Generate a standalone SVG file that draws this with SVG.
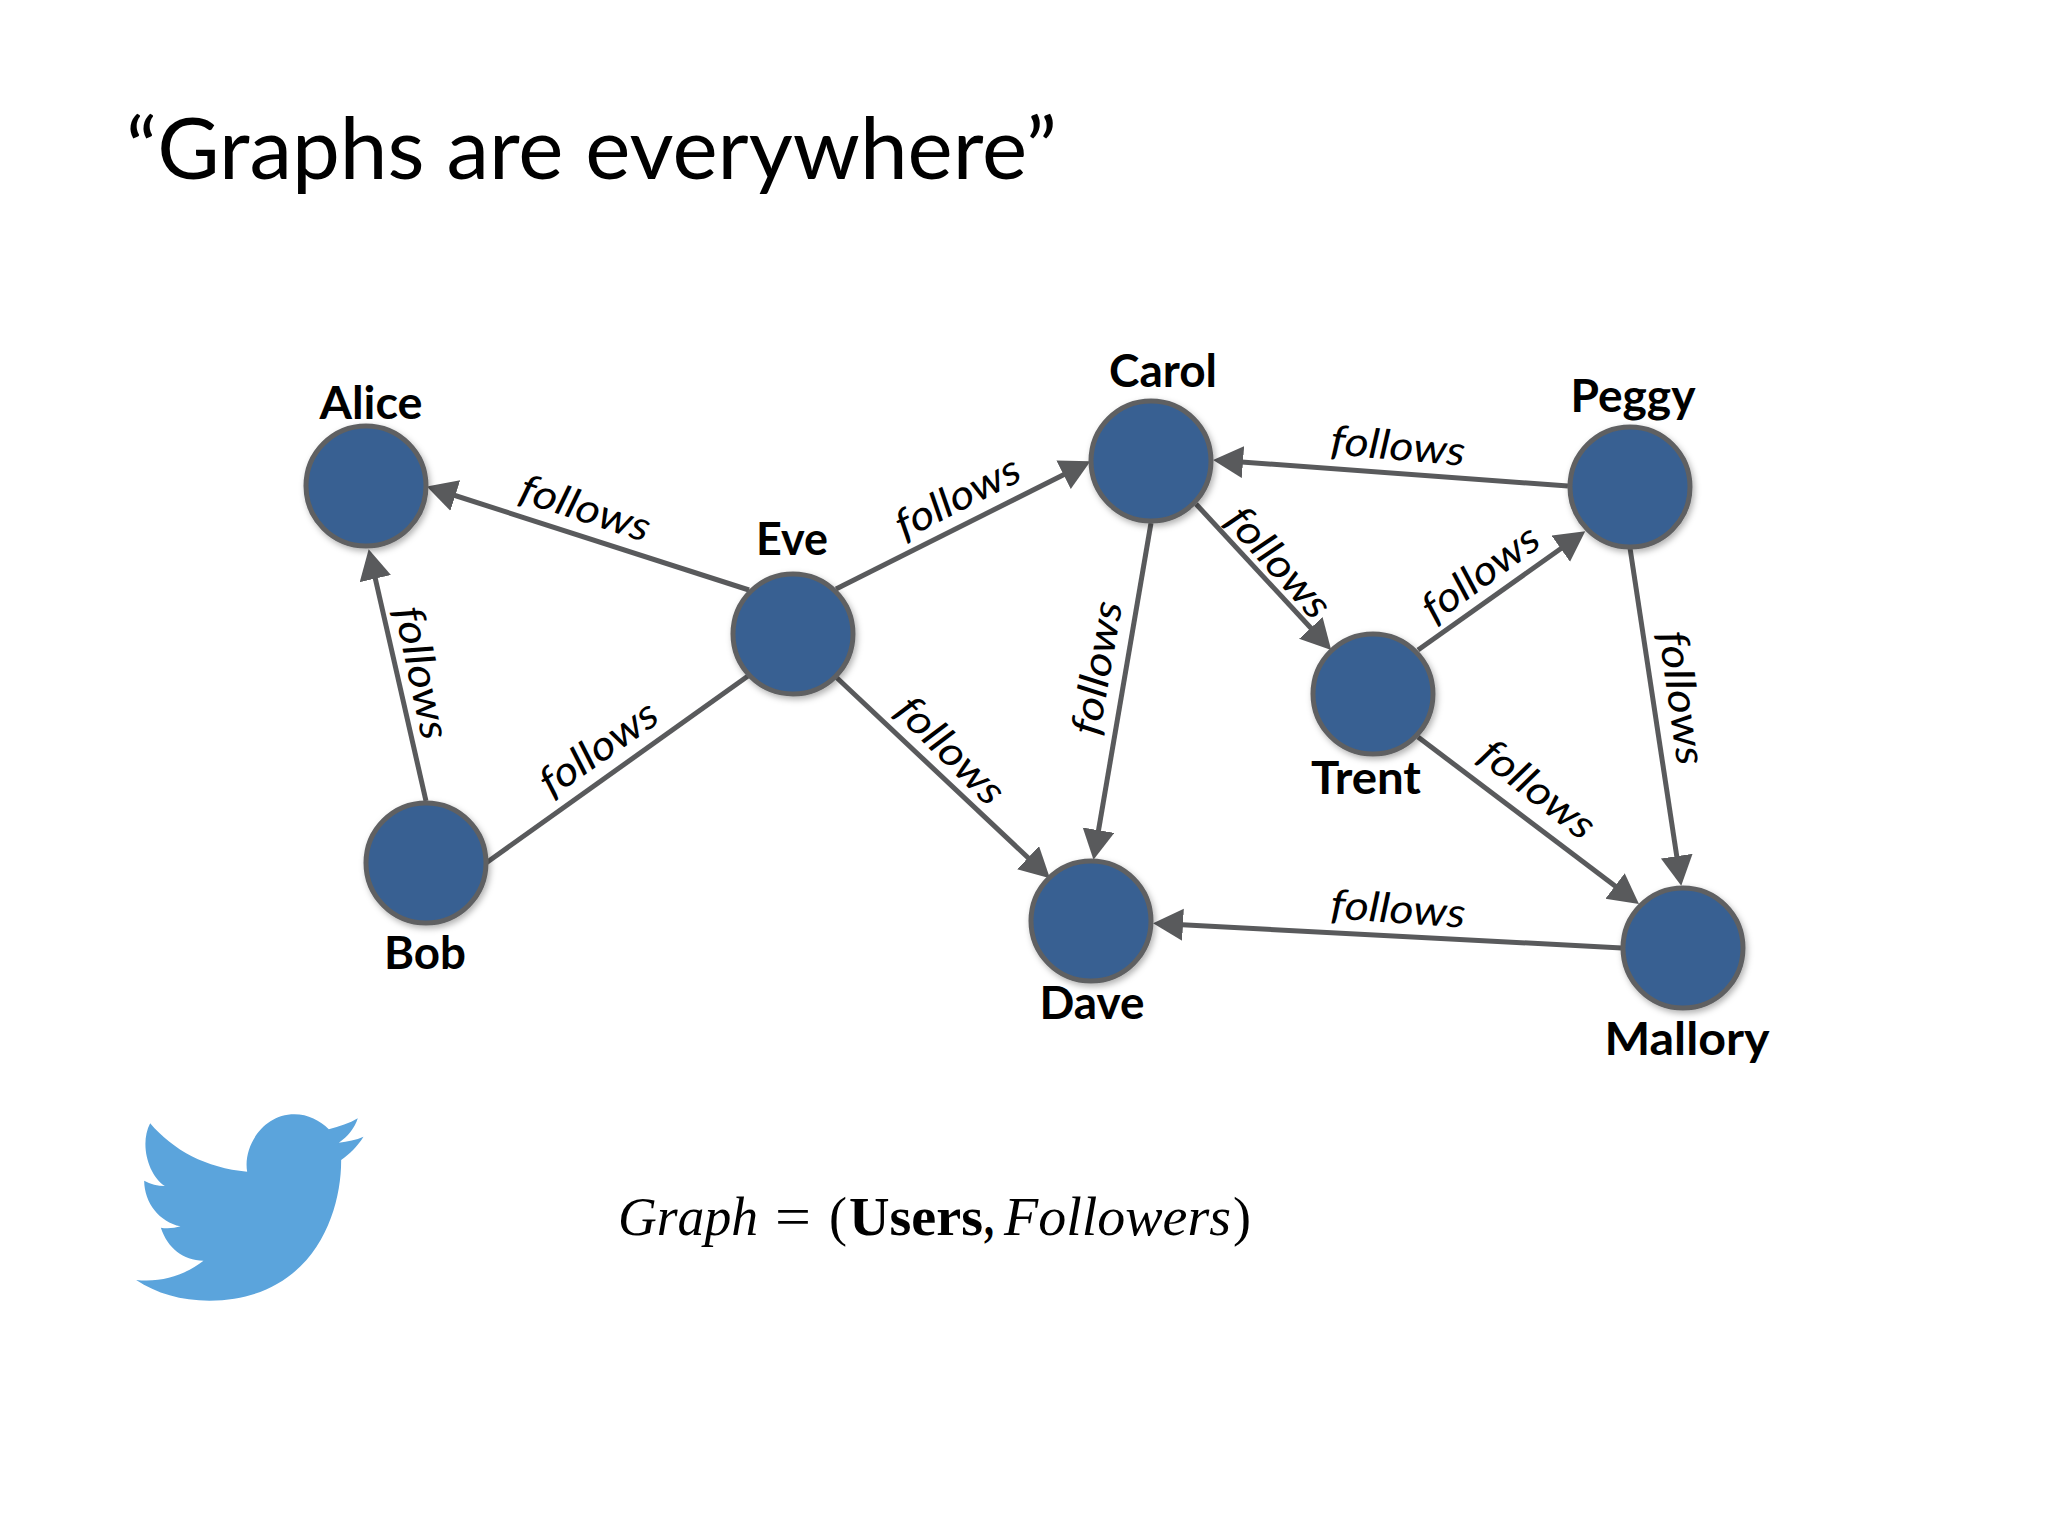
<svg xmlns="http://www.w3.org/2000/svg" width="2048" height="1536" viewBox="0 0 2048 1536">
<defs>
<style>
.n{fill:#376092;stroke:#5f6062;stroke-width:5}
.c{fill:none;stroke:#595a5c;stroke-width:5}
.a{marker-end:url(#arrow)}
.name{font-family:Lato,"Liberation Sans",sans-serif;font-weight:700;font-size:46px;fill:#000;text-anchor:middle}
.f{font-family:Lato,"Liberation Sans",sans-serif;font-style:italic;font-size:41px;fill:#000;text-anchor:middle}
.m{font-family:"Liberation Serif",serif;font-size:54px;fill:#000}
</style>
<marker id="arrow" markerUnits="userSpaceOnUse" markerWidth="32" markerHeight="34" refX="15" refY="16" orient="auto"><path d="M0,0L30,16L0,32Z" fill="#595a5c"/></marker>
<filter id="s" x="-20%" y="-20%" width="140%" height="140%"><feDropShadow dx="2" dy="3" stdDeviation="3" flood-color="#000" flood-opacity=".3"/></filter>
</defs>
<rect width="2048" height="1536" fill="#fff"/>
<text id="title" x="126" y="179" font-family="Lato,'Liberation Sans',sans-serif" font-size="85" fill="#000" textLength="931" lengthAdjust="spacingAndGlyphs">“Graphs are everywhere”</text>
<g id="connectors">
<path class="c a" d="M426,801L372,564"/>
<path class="c" d="M486,863L748,676"/>
<path class="c a" d="M749,590L441,491"/>
<path class="c a" d="M836,589L1077,468"/>
<path class="c a" d="M836,677L1039,868"/>
<path class="c a" d="M1151,523L1096,845"/>
<path class="c a" d="M1196,504L1321,639"/>
<path class="c a" d="M1568,486L1228,461"/>
<path class="c a" d="M1418,650L1573,540"/>
<path class="c a" d="M1630,548L1679,871"/>
<path class="c a" d="M1418,737L1627,895"/>
<path class="c a" d="M1622,948L1168,924"/>
<g>
<text class="f" transform="translate(585,509) rotate(18)" y="13" textLength="135" lengthAdjust="spacingAndGlyphs">follows</text>
<text class="f" transform="translate(421,673) rotate(78)" y="13" textLength="135" lengthAdjust="spacingAndGlyphs">follows</text>
<text class="f" transform="translate(599,749) rotate(-35)" y="13" textLength="135" lengthAdjust="spacingAndGlyphs">follows</text>
<text class="f" transform="translate(958,498) rotate(-27)" y="13" textLength="135" lengthAdjust="spacingAndGlyphs">follows</text>
<text class="f" transform="translate(950,751) rotate(45)" y="13" textLength="135" lengthAdjust="spacingAndGlyphs">follows</text>
<text class="f" transform="translate(1098,668) rotate(-80)" y="13" textLength="135" lengthAdjust="spacingAndGlyphs">follows</text>
<text class="f" transform="translate(1278,563) rotate(48)" y="13" textLength="135" lengthAdjust="spacingAndGlyphs">follows</text>
<text class="f" transform="translate(1398,447) rotate(5)" y="13" textLength="135" lengthAdjust="spacingAndGlyphs">follows</text>
<text class="f" transform="translate(1481,574) rotate(-36)" y="13" textLength="135" lengthAdjust="spacingAndGlyphs">follows</text>
<text class="f" transform="translate(1681,698) rotate(82)" y="13" textLength="135" lengthAdjust="spacingAndGlyphs">follows</text>
<text class="f" transform="translate(1537,790) rotate(38)" y="13" textLength="135" lengthAdjust="spacingAndGlyphs">follows</text>
<text class="f" transform="translate(1398,910) rotate(4)" y="13" textLength="135" lengthAdjust="spacingAndGlyphs">follows</text>
</g>
</g>
<g id="alice"><circle class="n" cx="366" cy="486" r="60" filter="url(#s)"/><text class="name" x="371" y="419" textLength="103" lengthAdjust="spacingAndGlyphs">Alice</text></g>
<g id="bob"><circle class="n" cx="426" cy="863" r="60" filter="url(#s)"/><text class="name" x="425" y="969" textLength="82" lengthAdjust="spacingAndGlyphs">Bob</text></g>
<g id="eve"><circle class="n" cx="793" cy="634" r="60" filter="url(#s)"/><text class="name" x="792" y="555" textLength="72" lengthAdjust="spacingAndGlyphs">Eve</text></g>
<g id="carol"><circle class="n" cx="1151" cy="461" r="60" filter="url(#s)"/><text class="name" x="1163" y="387" textLength="108" lengthAdjust="spacingAndGlyphs">Carol</text></g>
<g id="peggy"><circle class="n" cx="1630" cy="487" r="60" filter="url(#s)"/><text class="name" x="1633" y="412" textLength="125" lengthAdjust="spacingAndGlyphs">Peggy</text></g>
<g id="trent"><circle class="n" cx="1373" cy="694" r="60" filter="url(#s)"/><text class="name" x="1366" y="794" textLength="110" lengthAdjust="spacingAndGlyphs">Trent</text></g>
<g id="dave"><circle class="n" cx="1091" cy="921" r="60" filter="url(#s)"/><text class="name" x="1092" y="1019" textLength="105" lengthAdjust="spacingAndGlyphs">Dave</text></g>
<g id="mallory"><circle class="n" cx="1683" cy="948" r="60" filter="url(#s)"/><text class="name" x="1687" y="1055" textLength="165" lengthAdjust="spacingAndGlyphs">Mallory</text></g>
<path id="bird" transform="translate(99.5,1080) scale(.3333)" fill="#5ba4dc" d="M152,130C220,210 320,265 443,275C430,200 490,103 585,103C625,103 662,122 688,148C720,140 750,130 775,115C765,145 745,170 718,188C745,185 770,180 792,170C773,200 750,222 725,240C726,400 640,660 330,662C245,662 170,640 110,600C190,608 255,585 312,542C250,540 205,505 184,443C200,446 225,445 243,439C180,425 135,370 134,302C152,312 175,318 196,318C145,285 120,190 152,130Z"/>
<g id="formula">
<text class="m" x="618" y="1235" font-style="italic" textLength="140" lengthAdjust="spacingAndGlyphs">Graph</text>
<text class="m" x="775" y="1235" textLength="36" lengthAdjust="spacingAndGlyphs">=</text>
<text class="m" x="829" y="1235" textLength="18" lengthAdjust="spacingAndGlyphs">(</text>
<text class="m" x="849" y="1235" font-weight="700" textLength="134" lengthAdjust="spacingAndGlyphs">Users</text>
<text class="m" x="984" y="1235" font-weight="700" textLength="10" lengthAdjust="spacingAndGlyphs">,</text>
<text class="m" x="1004" y="1235" font-style="italic" textLength="227" lengthAdjust="spacingAndGlyphs">Followers</text>
<text class="m" x="1233" y="1235" textLength="18" lengthAdjust="spacingAndGlyphs">)</text>
</g>
</svg>
